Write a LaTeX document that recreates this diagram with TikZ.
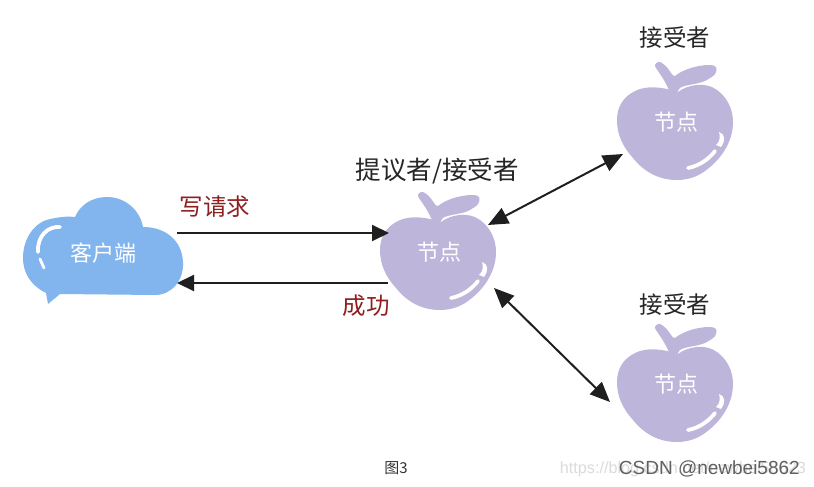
\documentclass[tikz,border=0pt]{standalone}
\usepackage{fontspec}
\setmainfont{Liberation Sans}
\newfontfamily\cjk{Noto Sans CJK SC}
\usetikzlibrary{arrows.meta}
\definecolor{applepurple}{HTML}{BEB5DB}
\definecolor{cloudblue}{HTML}{82B4EE}
\definecolor{darkred}{HTML}{8E1F1F}
\tikzset{
  x=1pt,y=-1pt,
  inklabel/.style={font=\cjk\fontsize{23.5}{23.5}\selectfont,text=black!85,inner sep=0pt},
  redlabel/.style={font=\cjk\fontsize{23.5}{23.5}\selectfont,text=darkred,inner sep=0pt},
  whitelabel/.style={font=\cjk\fontsize{22}{22}\selectfont,text=white,inner sep=0pt},
  shine/.style={draw=white,line width=3.8pt,line cap=round},
  msg/.style={draw=black!88,line width=2pt,-{Triangle[length=17pt,width=16pt]}},
  both/.style={draw=black!88,line width=2pt,{Triangle[length=20pt,width=17pt]}-{Triangle[length=20pt,width=17pt]}},
  pics/apple/.style={code={
    \fill[applepurple] (3,-33) .. controls (12,-40) and (30,-44) .. (42,-35) .. controls (53,-27) and (58,-15) .. (58,-3) .. controls (58,15) and (48,33) .. (30,46) .. controls (22,52) and (12,55) .. (2,55) .. controls (-15,55) and (-30,48) .. (-42,33) .. controls (-52,22) and (-58,10) .. (-58,-5) .. controls (-58,-18) and (-52,-28) .. (-40,-34) .. controls (-28,-40) and (-12,-38) .. (3,-33) -- cycle;
    \fill[applepurple,rounded corners=2.5pt] (-21,-60) -- (-16,-64) -- (-9,-59) -- (-1,-48) .. controls (6,-54) and (20,-60) .. (37,-60) .. controls (43,-58) and (42,-51) .. (35,-47) .. controls (26,-41) and (14,-41) .. (4,-37) -- (3,-33) -- (-3,-29) -- (-11,-45) -- cycle;
    \draw[shine] (13,43) .. controls (24,41) and (34,34) .. (40,26);
    \fill[white] (41,20) .. controls (46,15) and (45,11) .. (44,7) .. controls (50,9) and (51,15) .. (46,22) -- cycle;
  }}
}
\begin{document}
\begin{tikzpicture}
\useasboundingbox[fill=white] (0,0) rectangle (814,487);
% cloud
\fill[cloudblue] (48,304) -- (46,293) .. controls (30,285) and (23,272) .. (23,258) .. controls (23,238) and (35,222) .. (50,219) .. controls (60,217) and (68,216) .. (75,217) .. controls (80,205) and (92,197) .. (107,197) .. controls (125,197) and (140,210) .. (143,227) .. controls (165,227) and (182,240) .. (183,262) .. controls (184,280) and (172,295) .. (155,295) -- (60,294) -- cycle;
\draw[shine] (60,227) .. controls (48,226) and (37,236) .. (38,252);
\draw[shine,line width=2.8pt] (40,259) -- (44,268);
\node[whitelabel] (client) at (103,253) {客户端};
% apples
\pic at (438,255) {apple};
\pic at (675,125) {apple};
\pic at (675,387) {apple};
\node[whitelabel] (proposer) at (439,252) {节点};
\node[whitelabel] (acceptorA) at (676,122) {节点};
\node[whitelabel] (acceptorB) at (676,384) {节点};
% labels
\node[inklabel] (lblA) at (675,38) {接受者};
\node[inklabel,font=\cjk\fontsize{25.5}{25.5}\selectfont] (lblP) at (437,171) {提议者/接受者};
\node[inklabel] (lblB) at (675,305) {接受者};
\node[redlabel] (lblW) at (215,207) {写请求};
\node[redlabel] (lblS) at (366,306) {成功};
% connector ends
\coordinate (cOut) at (177,233);
\coordinate (cIn) at (177,283);
\coordinate (pIn) at (389,233);
\coordinate (pOut) at (388,283);
\coordinate (pUp) at (488,225);
\coordinate (aEnd) at (623,154);
\coordinate (pDown) at (494,288);
\coordinate (bEnd) at (610,402);
\draw[msg] (cOut) -- (pIn);
\draw[msg] (pOut) -- (cIn);
\draw[both] (pUp) -- (aEnd);
\draw[both] (pDown) -- (bEnd);
% caption
\node[font=\cjk\fontsize{15}{15}\selectfont,text=black!80,inner sep=0pt] (cap) at (396,468) {图3};
\node[font=\fontsize{16.2}{16.2}\selectfont,text=black!14,inner sep=0pt,anchor=east] (wm) at (806,469) {https://blog.csdn.net/newbei58623};
\node[font=\fontsize{19}{19}\selectfont,text=black!62,inner sep=0pt,anchor=east] (csdn) at (800,469) {CSDN @newbei5862};
\end{tikzpicture}
\end{document}
